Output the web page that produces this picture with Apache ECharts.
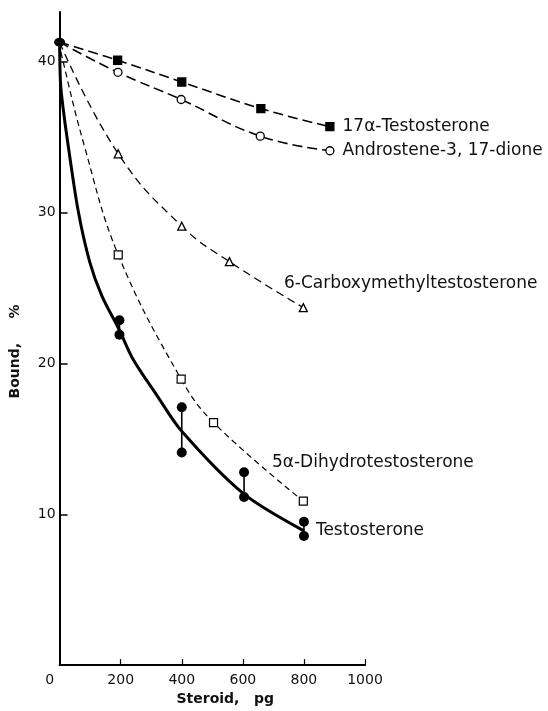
<!DOCTYPE html>
<html>
<head>
<meta charset="utf-8">
<script src="https://cdn.jsdelivr.net/npm/echarts@6/dist/echarts.min.js"></script>
<style>
  html, body { margin: 0; padding: 0; background: #fff; }
  #chart { width: 548px; height: 711px; }
</style>
</head>
<body>
<div id="chart"></div>
<script>
// values (x = steroid pg, y = bound %)
const startPoint = [0, 41.3]
const xTicks = [0, 200, 400, 600, 800, 1000]
const yTicks = [10, 20, 30, 40]

const alphaTesto = [[190, 40.1], [400, 38.66], [659, 36.9], [885, 35.7]]
const androstene = [[191, 39.3], [398, 37.5], [657, 35.07], [885, 34.1]]
const carboxy = [[192, 33.9], [400, 29.1], [556, 26.75], [798, 23.7]]
const dhtMarks = [[192, 27.2], [398, 18.96], [504, 16.08], [798, 10.87]]
const dhtCurve = [[0, 41.3], [7, 40.4], [80, 34.5], [192, 27.2], [398, 18.96], [504, 16.08], [798, 10.87]]

const testoX = [196, 400, 604, 800]
const testoLow = [21.9, 14.1, 11.15, 8.56]
const testoHigh = [22.86, 17.1, 12.78, 9.5]
const testoCurve = [
  [0, 41.3], [3, 38.6], [11, 37.0], [27, 34.6], [61, 30.1], [99, 26.7],
  [138, 24.5], [196, 22.2], [240, 20.3], [318, 17.9],
  [400, 15.5], [600, 11.4], [800, 8.9],
]

const font = 'DejaVu Sans'
const ink = '#111'

const labelStyle = {
  color: ink,
  fontFamily: font,
  fontSize: 17,
}

function markedLine(name, marks, symbol, filled, labelOpt, dash, width) {
  let data = [{ value: startPoint, symbol: 'none' }]
  marks.forEach(function (p, i) {
    let item = { value: p }
    if (i === marks.length - 1) {
      item.label = Object.assign({ show: true, formatter: name }, labelStyle, labelOpt)
    }
    data.push(item)
  })
  return {
    name: name,
    type: 'line',
    data: data,
    smooth: 0.45,
    symbol: symbol,
    symbolSize: 8,
    clip: false,
    itemStyle: {
      color: filled ? '#000' : '#fff',
      borderColor: '#000',
      borderWidth: 1.3,
      opacity: 1,
    },
    lineStyle: { color: '#000', width: width, type: dash },
    z: 3,
  }
}

const testoPoints = []
testoX.forEach(function (x, i) {
  testoPoints.push([x, testoLow[i]])
  testoPoints.push([x, testoHigh[i]])
})
const testoBars = testoX.map(function (x, i) {
  return [x, testoLow[i], testoHigh[i]]
})

let myChart = echarts.init(document.getElementById('chart'))

let option = {
  backgroundColor: '#fff',
  animation: false,
  grid: {
    left: 59.6,
    right: 183,
    top: 12,
    bottom: 44,
    containLabel: false,
  },
  xAxis: {
    type: 'value',
    min: 0,
    max: 1000,
    interval: 200,
    name: 'Steroid,   pg',
    nameLocation: 'middle',
    nameGap: 26,
    nameTextStyle: {
      color: ink,
      fontFamily: font,
      fontSize: 14,
      fontWeight: 'bold',
      padding: [0, 0, 0, 26],
    },
    axisLine: { show: true, lineStyle: { color: '#000', width: 2 } },
    axisTick: {
      show: true,
      inside: true,
      length: 6,
      customValues: [200, 400, 600, 800, 1000],
      lineStyle: { color: '#000', width: 1.2 },
    },
    axisLabel: {
      customValues: xTicks,
      margin: 8,
      color: ink,
      fontFamily: font,
      fontSize: 14,
      formatter: function (v) {
        return v === 0 ? '{z|0}' : String(v)
      },
      rich: {
        z: { fontFamily: font, fontSize: 14, color: ink, padding: [0, 20, 0, 0] },
      },
    },
    splitLine: { show: false },
  },
  yAxis: {
    type: 'value',
    min: 0,
    max: 43.3,
    interval: 10,
    name: 'Bound,     %',
    nameLocation: 'middle',
    nameGap: 37,
    nameRotate: 90,
    nameTextStyle: {
      color: ink,
      fontFamily: font,
      fontSize: 14,
      fontWeight: 'bold',
      padding: [0, 26, 0, 0],
    },
    axisLine: { show: true, lineStyle: { color: '#000', width: 2 } },
    axisTick: {
      show: true,
      inside: true,
      length: 8,
      customValues: yTicks,
      lineStyle: { color: '#000', width: 1.5 },
    },
    axisLabel: {
      customValues: yTicks,
      margin: 4,
      color: ink,
      fontFamily: font,
      fontSize: 14,
    },
    splitLine: { show: false },
  },
  series: [
    markedLine('17α-Testosterone', alphaTesto, 'rect', true,
      { position: 'right', distance: 8 }, [10, 5], 1.6),
    markedLine('Androstene-3, 17-dione', androstene, 'circle', false,
      { position: 'right', distance: 8 }, [10, 5], 1.6),
    markedLine('6-Carboxymethyltestosterone', carboxy, 'triangle', false,
      { position: 'right', distance: 5, offset: [-29, -24] }, [8, 5], 1.3),
    {
      name: '5α-Dihydrotestosterone curve',
      type: 'line',
      data: dhtCurve,
      smooth: 0.4,
      showSymbol: false,
      clip: false,
      lineStyle: { color: '#000', width: 1.2, type: [6, 4] },
      z: 2,
    },
    {
      name: '5α-Dihydrotestosterone',
      type: 'scatter',
      data: dhtMarks.map(function (p, i) {
        let item = { value: p }
        if (i === dhtMarks.length - 1) {
          item.label = Object.assign({
            show: true,
            formatter: '5α-Dihydrotestosterone',
            position: 'right',
            distance: 5,
            offset: [-41, -39],
          }, labelStyle)
        }
        return item
      }),
      symbol: 'rect',
      symbolSize: 8,
      clip: false,
      itemStyle: { color: '#fff', borderColor: '#000', borderWidth: 1.2, opacity: 1 },
      z: 4,
    },
    {
      name: 'Testosterone',
      type: 'line',
      data: testoCurve,
      smooth: 0.3,
      showSymbol: false,
      clip: false,
      lineStyle: { color: '#000', width: 3 },
      endLabel: Object.assign({
        show: true,
        formatter: 'Testosterone',
        distance: 12,
      }, labelStyle),
      z: 2,
    },
    {
      name: 'Testosterone range',
      type: 'custom',
      data: testoBars,
      clip: false,
      renderItem: function (params, api) {
        let a = api.coord([api.value(0), api.value(1)])
        let b = api.coord([api.value(0), api.value(2)])
        return {
          type: 'line',
          shape: { x1: a[0], y1: a[1], x2: b[0], y2: b[1] },
          style: { stroke: '#000', lineWidth: 1.6 },
        }
      },
      z: 3,
    },
    {
      name: 'Testosterone points',
      type: 'scatter',
      data: testoPoints,
      symbol: 'circle',
      symbolSize: 10,
      clip: false,
      itemStyle: { color: '#000', opacity: 1 },
      z: 4,
    },
    {
      name: 'start',
      type: 'scatter',
      data: [startPoint],
      symbol: 'circle',
      symbolSize: [11, 9],
      clip: false,
      itemStyle: { color: '#000', opacity: 1 },
      z: 5,
    },
  ],
}

myChart.setOption(option)
</script>
</body>
</html>
